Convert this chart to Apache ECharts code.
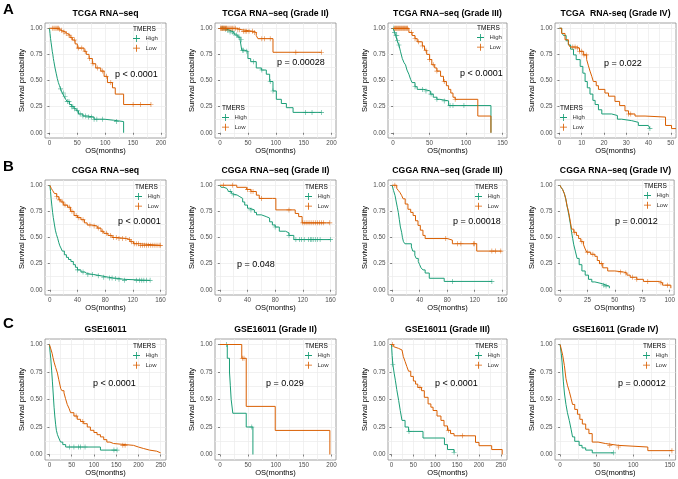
<!DOCTYPE html>
<html>
<head>
<meta charset="utf-8">
<title>TMERS survival</title>
<script src="https://cdn.jsdelivr.net/npm/echarts@6/dist/echarts.min.js"></script>
<style>
  html, body { margin: 0; padding: 0; background: #fff; }
  #chart { width: 678px; height: 479px; }
</style>
</head>
<body>
<div id="chart"></div>
<script>
// KM curves as [months, survival] steps, censor marks as months
const A1_high = [[0,1],[1,0.95],[2,0.9],[3,0.86],[4,0.82],[5,0.78],[6,0.75],[7,0.71],[8,0.68],[10,0.62],[12,0.57],[14,0.52],[16,0.48],[18,0.45],[20,0.42],[23,0.38],[26,0.35],[29,0.32],[32,0.3],[36,0.27],[40,0.25],[44,0.23],[48,0.21],[52,0.18],[60,0.16],[68,0.15],[80,0.13],[98,0.12],[115,0.107],[133,0]];
const A1_low = [[0,1],[17,0.99],[20,0.98],[23,0.965],[28,0.95],[32,0.934],[37,0.91],[41,0.887],[46,0.85],[50,0.81],[62,0.78],[66,0.75],[71,0.71],[77,0.66],[83,0.62],[92,0.59],[98,0.54],[104,0.48],[113,0.43],[118,0.37],[133,0.27],[182,0.27]];
const A1_high_c = [20,25,28,32,35,40,42,45,50,55,60,65,70,75,80,85,95,120];
const A1_low_c = [5,8,10,12,14,16,18,22,26,30,35,40,45,52,58,64,72,78,86,95,102,110,150,163,182];

const A2_high = [[0,1],[8,0.99],[12,0.98],[18,0.965],[24,0.95],[27,0.935],[32,0.915],[36,0.89],[39,0.79],[44.5,0.78],[50,0.71],[55,0.68],[65,0.62],[74,0.6],[83,0.56],[89,0.49],[95,0.4],[101,0.32],[110,0.28],[119,0.24],[131,0.195],[182,0.195]];
const A2_low = [[0,1],[30,0.985],[39,0.97],[60,0.96],[65,0.93],[68,0.9],[95,0.77],[182,0.77]];
const A2_high_c = [5,10,14,18,22,25,30,34,38,40,42,48,60,75,90,95,153,165,182];
const A2_low_c = [1,2,3,4,5,6,7,8,9,10,11,12,14,16,18,20,22,25,28,32,35,42,45,48,52,58,62,75,80,90,136,182];

const A3_high = [[0,1],[2,0.96],[3.6,0.93],[5.5,0.88],[8,0.84],[10,0.78],[12.6,0.71],[15,0.67],[17,0.65],[19,0.6],[21.6,0.56],[24,0.51],[26,0.48],[30,0.44],[33,0.415],[42,0.4],[51,0.37],[55,0.34],[60,0.32],[64,0.305],[76,0.26],[134,0]];
const A3_low = [[0,1],[21.6,0.96],[26,0.93],[30,0.9],[33,0.87],[40,0.83],[43,0.79],[46,0.75],[50,0.7],[53,0.65],[57,0.62],[60,0.59],[65,0.54],[69,0.49],[73,0.45],[76,0.415],[79,0.38],[82,0.34],[85,0.32],[116,0.16],[134,0]];
const A3_high_c = [1,2,4,5,6,8,30,40,45,52,60,70,78,82,97];
const A3_low_c = [2,3,4,5,6,7,8,9,10,11,12,13,14,15,16,17,18,19,20,25,30,35,40,45,50,55,60,70,85];

const A4_high = [[0,1],[1,0.96],[1.8,0.93],[3,0.88],[4,0.84],[5,0.8],[6.3,0.745],[7.5,0.7],[9.3,0.635],[10.5,0.57],[11.5,0.49],[12.5,0.43],[13.7,0.37],[15,0.31],[16,0.27],[17.5,0.22],[19,0.18],[23.4,0.165],[26,0.13],[27.9,0.116],[32.4,0.1],[35.4,0.07],[39.9,0.053],[40.6,0.04]];
const A4_low = [[0,1],[1,0.95],[2.5,0.89],[4,0.85],[4.8,0.82],[7.8,0.81],[9,0.78],[10.7,0.745],[12.2,0.7],[13,0.64],[13.7,0.59],[14.5,0.54],[15.2,0.49],[16.5,0.45],[17.5,0.415],[20.4,0.38],[22,0.35],[24.9,0.3],[27,0.26],[29.4,0.21],[31,0.18],[33.9,0.16],[38.4,0.15],[47.6,0.07],[50.3,0.04],[52.3,0.04]];
const A4_high_c = [40.6];
const A4_low_c = [6,7,8,9,10,11,12,31,32];

const B1_high = [[0,1],[1,0.94],[1.9,0.87],[3,0.8],[4,0.74],[5,0.69],[6.7,0.62],[8,0.57],[9.5,0.53],[11.4,0.49],[13,0.45],[14.5,0.42],[16,0.4],[18,0.37],[21,0.335],[24,0.31],[27,0.29],[30.5,0.27],[34,0.24],[37,0.215],[40,0.19],[45,0.17],[50,0.155],[54,0.146],[63,0.135],[73,0.12],[85,0.112],[92,0.108],[100,0.1],[107,0.09],[145,0.09]];
const B1_low = [[0,1],[2,0.97],[4,0.95],[6.7,0.92],[10,0.89],[13,0.86],[16,0.84],[20,0.81],[25.7,0.79],[30,0.75],[35,0.71],[40,0.69],[45,0.67],[50,0.64],[54,0.62],[60,0.61],[68.6,0.59],[74,0.56],[78,0.54],[84,0.52],[90,0.5],[97,0.49],[111,0.48],[116,0.46],[121,0.44],[130,0.425],[160,0.425]];
const B1_high_c = [40,48,55,62,70,78,86,90,95,100,108,125,130,133,136,140,145];
const B1_low_c = [10,14,18,22,28,32,38,42,48,58,64,70,76,82,88,92,96,100,105,110,115,118,122,125,128,131,134,137,140,143,146,149,152,155,158,160];

const B2_high = [[0,1],[2,0.98],[5.7,0.97],[10,0.955],[12.7,0.94],[17,0.92],[19.8,0.906],[25,0.89],[29,0.874],[33,0.84],[36,0.81],[40,0.78],[43,0.764],[50,0.74],[53,0.717],[60,0.7],[67,0.686],[72,0.65],[76,0.62],[80,0.6],[86,0.56],[95,0.544],[100,0.52],[107,0.48],[160,0.48]];
const B2_low = [[0,1],[24.5,0.98],[38.7,0.96],[45,0.94],[52.8,0.905],[57,0.874],[76,0.874],[81,0.764],[109,0.73],[114,0.7],[119,0.64],[159,0.64]];
const B2_high_c = [15,20,45,80,100,110,115,118,122,128,131,133,135,138,141,145,160];
const B2_low_c = [5,18,40,45,48,60,100,120,123,126,129,132,135,138,141,144,147,150,159];

const B3_high = [[0,1],[2,0.95],[4.3,0.9],[6,0.84],[7.5,0.79],[9,0.74],[10.5,0.67],[12,0.6],[13.8,0.55],[15,0.5],[16.5,0.46],[18.6,0.44],[28,0.41],[30,0.37],[33,0.33],[35,0.3],[38,0.27],[40,0.24],[42,0.21],[44.8,0.19],[48,0.16],[54,0.11],[75.7,0.08],[145,0.08]];
const B3_low = [[0,1],[6.7,0.97],[9,0.95],[11.4,0.93],[14,0.9],[16,0.87],[19,0.82],[23,0.77],[27,0.74],[30.5,0.71],[34,0.66],[37.6,0.616],[41,0.57],[44.8,0.52],[48,0.49],[80,0.475],[87.6,0.44],[123,0.37],[159,0.37]];
const B3_high_c = [88,145];
const B3_low_c = [4,78,95,100,118,120,145,150,158];

const B4_high = [[0,1],[1,0.98],[2.4,0.96],[4,0.92],[5.3,0.87],[6.5,0.8],[7.3,0.76],[8.2,0.71],[9.5,0.63],[10.6,0.55],[11.6,0.49],[12.6,0.43],[14,0.37],[15.6,0.3],[17.5,0.24],[20,0.18],[23,0.14],[26,0.1],[29,0.075],[31.8,0.057],[39,0.044],[42,0.035],[45,0.015]];
const B4_low = [[0,1],[1,0.98],[2.4,0.96],[4,0.92],[5.3,0.87],[6.5,0.8],[7.3,0.77],[8.2,0.726],[9.5,0.65],[10.6,0.58],[12.6,0.55],[15,0.52],[17,0.49],[19,0.46],[21.5,0.43],[23,0.39],[24.4,0.36],[28,0.34],[31.8,0.32],[34,0.28],[36,0.25],[39,0.21],[43.5,0.18],[50,0.17],[58,0.16],[61,0.14],[64,0.12],[70,0.1],[76,0.08],[90.6,0.066],[93.5,0.044],[101,0.015]];
const B4_high_c = [40,42];
const B4_low_c = [13,20,25,30,38,55,60,66,70,80,92,98];

const C1_high = [[0,1],[1.5,0.93],[3,0.87],[5,0.76],[6.7,0.66],[8.5,0.55],[10.4,0.43],[12,0.35],[14,0.27],[15.6,0.22],[18,0.18],[21,0.15],[25,0.113],[30,0.09],[36.5,0.068],[114.6,0.04],[152,0.04]];
const C1_low = [[0,1],[3,0.96],[6,0.92],[8,0.88],[10.4,0.84],[14,0.79],[17.9,0.74],[21,0.68],[25.3,0.6],[28,0.58],[32.7,0.56],[36,0.51],[40,0.455],[44,0.42],[47.6,0.38],[55,0.35],[62.5,0.32],[70,0.3],[77,0.28],[85,0.25],[92,0.22],[100,0.2],[107,0.18],[114.6,0.16],[122,0.135],[129,0.113],[136,0.1],[144,0.083],[189,0.068],[200,0.055],[211,0.04],[225,0.03],[241,0.015],[250,0.015]];
const C1_high_c = [45,55,65,70,80,145,152];
const C1_low_c = [60,75,165,170];

const C2_high = [[0,1],[13,0.875],[17,0.75],[18.5,0.625],[20,0.5],[23,0.375],[47,0.25],[59,0]];
const C2_low = [[0,1],[39,0.875],[47,0.4375],[99,0.219],[197,0]];
const C2_high_c = [12,57];
const C2_low_c = [40,43];

const C3_high = [[0,1],[1.5,0.9],[3,0.82],[6,0.74],[9,0.67],[12,0.59],[16.4,0.49],[20,0.4],[24,0.31],[31,0.25],[39,0.21],[72,0.15],[121,0.09],[128,0.045],[143,0.02]];
const C3_low = [[0,1],[5,0.98],[9,0.965],[16,0.95],[24,0.935],[27,0.89],[31,0.846],[35,0.8],[39,0.757],[44,0.71],[50,0.668],[55,0.64],[60,0.61],[68.7,0.58],[75,0.52],[83.6,0.46],[90,0.43],[95,0.4],[104,0.35],[113,0.31],[120,0.26],[128,0.22],[135,0.19],[143,0.17],[192,0.11],[200,0.08],[229,0.045],[253,0]];
const C3_high_c = [3,40,143];
const C3_low_c = [2,65,130,162];

const C4_high = [[0,1],[1.5,0.92],[2.7,0.84],[3.6,0.75],[4.5,0.66],[6,0.55],[8,0.455],[10,0.38],[12.5,0.31],[15,0.23],[17,0.16],[20,0.12],[26,0.083],[30,0.06],[35,0.04],[44,0.015],[73,0.015]];
const C4_low = [[0,1],[1.5,0.96],[3.6,0.9],[5.8,0.81],[8,0.69],[10,0.63],[12.5,0.575],[15,0.51],[17,0.455],[20,0.41],[23.7,0.366],[27,0.32],[30.4,0.277],[35,0.23],[39.4,0.19],[43.9,0.113],[52,0.1],[61.8,0.083],[79.7,0.068],[120,0.035],[153.6,0.035]];
const C4_high_c = [73];
const C4_low_c = [68,80,153];

const titles = ['TCGA RNA\u2212seq', 'TCGA RNA\u2212seq (Grade II)', 'TCGA RNA\u2212seq (Grade III)', 'TCGA  RNA-seq (Grade IV)',
  'CGGA RNA\u2212seq', 'CGGA RNA\u2212seq (Grade II)', 'CGGA RNA\u2212seq (Grade III)', 'CGGA RNA\u2212seq (Grade IV)',
  'GSE16011', 'GSE16011 (Grade II)', 'GSE16011 (Grade III)', 'GSE16011 (Grade IV)'];
const pValues = ['p < 0.0001', 'p = 0.00028', 'p < 0.0001', 'p = 0.022',
  'p < 0.0001', 'p = 0.048', 'p = 0.00018', 'p = 0.0012',
  'p < 0.0001', 'p = 0.029', 'p < 0.0001', 'p = 0.00012'];
const xTicks = [[0,50,100,150,200], [0,50,100,150,200], [0,50,100,150], [0,10,20,30,40,50],
  [0,40,80,120,160], [0,40,80,120,160], [0,40,80,120,160], [0,25,50,75,100],
  [0,50,100,150,200,250], [0,50,100,150,200], [0,50,100,150,200,250], [0,50,100,150]];
const yTicks = [0, 0.25, 0.5, 0.75, 1];
const groups = ['High', 'Low'];

const curves = [
  [A1_high, A1_low, A1_high_c, A1_low_c], [A2_high, A2_low, A2_high_c, A2_low_c],
  [A3_high, A3_low, A3_high_c, A3_low_c], [A4_high, A4_low, A4_high_c, A4_low_c],
  [B1_high, B1_low, B1_high_c, B1_low_c], [B2_high, B2_low, B2_high_c, B2_low_c],
  [B3_high, B3_low, B3_high_c, B3_low_c], [B4_high, B4_low, B4_high_c, B4_low_c],
  [C1_high, C1_low, C1_high_c, C1_low_c], [C2_high, C2_low, C2_high_c, C2_low_c],
  [C3_high, C3_low, C3_high_c, C3_low_c], [C4_high, C4_low, C4_high_c, C4_low_c]
];

// layout
const colLeft = [45, 215, 388, 555];
const colWidth = [121, 121, 119, 121];
const rowTop = [23, 180, 339];
const rowHeight = [115, 115, 121];
const xRange = [[-8,209],[-9,208],[-7,156],[-2,52.3],[-7,168],[-7,168],[-6,167],[-4.5,104],[-10,262],[-9,208],[-8,264],[-7,158]];
const pPos = [[115,75],[277,63],[460,74],[604,64],[118,222],[237,265],[453,222],[615,222],[93,384],[266,384],[435,384],[618,384]];
const legPos = [[133,29],[222,108],[477,28],[560,108],[135,187],[305,187],[475,187],[644,186],[133,346],[305,346],[475,346],[643,346]];

const colors = ['#1B9E77', '#D95F02'];
const plus = 'path://M4.4,0h1.2v4.4h4.4v1.2h-4.4v4.4h-1.2v-4.4h-4.4v-1.2h4.4z';
const FONT = 'Liberation Sans, Arial, sans-serif';

function survAt(curve, t) {
  let s = curve[0][1];
  for (const p of curve) {
    if (p[0] <= t) s = p[1]; else break;
  }
  return s;
}

function halves(ticks, lo, hi) {
  const step = ticks[1] - ticks[0];
  const out = [];
  for (let v = ticks[0] - step / 2; v <= hi; v += step / 2) {
    if (v >= lo) out.push(+v.toFixed(4));
  }
  return out;
}

const grid = [], xAxis = [], yAxis = [], series = [], legend = [], graphic = [];

const letters = ['A', 'B', 'C'];
letters.forEach((l, r) => {
  graphic.push({ type: 'text', left: 3, top: rowTop[r] - 21 + (r == 2 ? -2 : 0),
    style: { text: l, font: 'bold 15px ' + FONT, fill: '#000' } });
});

for (let i = 0; i < 12; i++) {
  const r = Math.floor(i / 4), c = i % 4;
  const left = colLeft[c], top = rowTop[r], w = colWidth[c], h = rowHeight[r];
  grid.push({ left: left, top: top, width: w, height: h, show: true,
    borderColor: '#8a8a8a', borderWidth: 0.8, backgroundColor: '#fff' });

  const [xmin, xmax] = xRange[i];
  const ymin = -0.05, ymax = 1.05;
  // labelled axes
  xAxis.push({ type: 'value', gridIndex: i, min: xmin, max: xmax,
    axisLine: { show: false },
    axisTick: { show: true, length: 2, lineStyle: { color: '#333', width: 0.6 }, customValues: xTicks[i] },
    axisLabel: { fontSize: 6.3, color: '#4d4d4d', margin: 2.5, fontFamily: FONT, customValues: xTicks[i] },
    splitLine: { show: false },
    name: 'OS(months)', nameLocation: 'middle', nameGap: 8,
    nameTextStyle: { fontSize: 7.5, color: '#000', fontFamily: FONT } });
  yAxis.push({ type: 'value', gridIndex: i, min: ymin, max: ymax,
    axisLine: { show: false },
    axisTick: { show: true, length: 2, lineStyle: { color: '#333', width: 0.6 }, customValues: yTicks },
    axisLabel: { fontSize: 6.3, color: '#4d4d4d', margin: 2.5, fontFamily: FONT, customValues: yTicks,
      formatter: v => v.toFixed(2) },
    splitLine: { show: false },
    name: 'Survival probability', nameLocation: 'middle', nameGap: 18,
    nameTextStyle: { fontSize: 7.5, color: '#000', fontFamily: FONT } });
  // grid-line axes (major + minor)
  xAxis.push({ type: 'value', gridIndex: i, min: xmin, max: xmax, position: 'top',
    axisLine: { show: false }, axisLabel: { show: false },
    axisTick: { show: false, customValues: halves(xTicks[i], xmin, xmax) },
    splitLine: { show: true, lineStyle: { color: '#ebebeb', width: 0.7 } } });
  yAxis.push({ type: 'value', gridIndex: i, min: ymin, max: ymax, position: 'right',
    axisLine: { show: false }, axisLabel: { show: false },
    axisTick: { show: false, customValues: halves(yTicks, ymin, ymax) },
    splitLine: { show: true, lineStyle: { color: '#ebebeb', width: 0.7 } } });

  const xi = 2 * i, yi = 2 * i;
  for (let g = 0; g < 2; g++) {
    const curve = curves[i][g], cens = curves[i][g + 2];
    series.push({ type: 'line', name: groups[g], xAxisIndex: xi, yAxisIndex: yi,
      data: curve, step: 'end', showSymbol: false, symbol: 'none',
      lineStyle: { color: colors[g], width: 1 }, itemStyle: { color: colors[g] },
      animation: false, z: 3 + g });
    series.push({ type: 'scatter', name: groups[g] + ' censor', xAxisIndex: xi, yAxisIndex: yi,
      data: cens.map(t => [t, survAt(curve, t)]), symbol: plus, symbolSize: 5,
      itemStyle: { color: colors[g] }, animation: false, z: 3 + g });
  }

  // title
  graphic.push({ type: 'text', x: left + w / 2, y: rowTop[r] - 9,
    style: { text: titles[i], font: 'bold 8.7px ' + FONT, fill: '#000',
      textAlign: 'center', textVerticalAlign: 'middle' } });
  // p value
  graphic.push({ type: 'text', x: pPos[i][0], y: pPos[i][1],
    style: { text: pValues[i], font: '9px ' + FONT, fill: '#000',
      textAlign: 'left', textVerticalAlign: 'middle' }, z: 10 });
  // legend title
  graphic.push({ type: 'text', x: legPos[i][0], y: legPos[i][1],
    style: { text: 'TMERS', font: '6.5px ' + FONT, fill: '#000',
      textAlign: 'left', textVerticalAlign: 'middle' }, z: 10 });
  legend.push({ orient: 'vertical', left: legPos[i][0], top: legPos[i][1] + 6,
    padding: 0, itemWidth: 8, itemHeight: 7, itemGap: 2.7, icon: plus,
    selectedMode: false, data: groups,
    textStyle: { fontSize: 6, color: '#333', fontFamily: FONT } });
}

const chart = echarts.init(document.getElementById('chart'), null, { renderer: 'canvas' });
chart.setOption({
  backgroundColor: '#fff',
  animation: false,
  grid: grid,
  xAxis: xAxis,
  yAxis: yAxis,
  legend: legend,
  graphic: graphic,
  series: series
});
</script>
</body>
</html>
